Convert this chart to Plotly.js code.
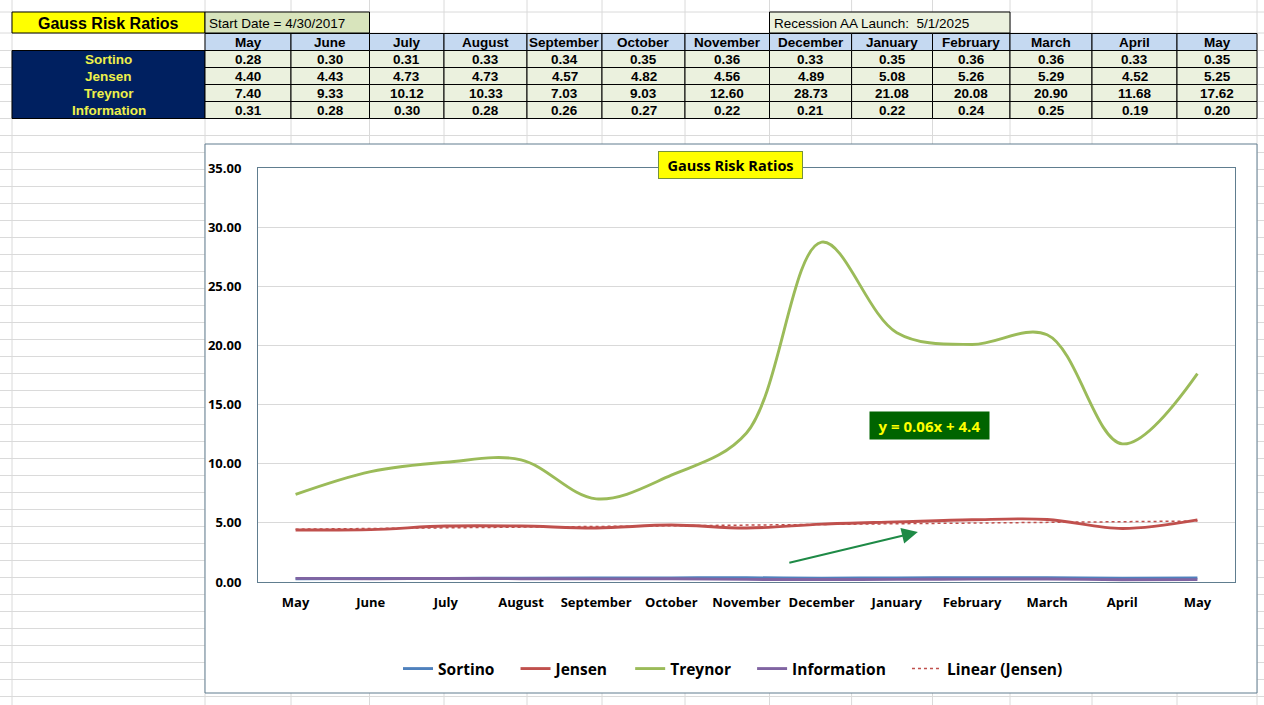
<!DOCTYPE html>
<html>
<head>
<meta charset="utf-8">
<script src="https://cdn.plot.ly/plotly-3.0.1.min.js"></script>
<style>
html,body{margin:0;padding:0;background:#fff;}
#chart{width:1264px;height:705px;}
</style>
</head>
<body>
<div id="chart"></div>
<script>
// ---------- data ----------
const months = ['May','June','July','August','September','October','November','December','January','February','March','April','May'];
const seriesNames = ['Sortino','Jensen','Treynor','Information'];
const sortino = [0.28,0.30,0.31,0.33,0.34,0.35,0.36,0.33,0.35,0.36,0.36,0.33,0.35];
const jensen = [4.40,4.43,4.73,4.73,4.57,4.82,4.56,4.89,5.08,5.26,5.29,4.52,5.25];
const treynor = [7.40,9.33,10.12,10.33,7.03,9.03,12.60,28.73,21.08,20.08,20.90,11.68,17.62];
const information = [0.31,0.28,0.30,0.28,0.26,0.27,0.22,0.21,0.22,0.24,0.25,0.19,0.20];
const sheetTitle = 'Gauss Risk Ratios';
const startDateText = 'Start Date = 4/30/2017';
const launchText = 'Recession AA Launch:  5/1/2025';
const chartTitle = 'Gauss Risk Ratios';
const trendLabel = 'y = 0.06x + 4.4';
const trendName = 'Linear (Jensen)';

// ---------- layout helpers (pixels -> paper) ----------
const W = 1264, H = 705;
const px = v => v / W;
const py = v => 1 - v / H;

const colEdges = [12,205,291,369.5,444,527,602,685,769.5,851.6,932.5,1010,1092,1177,1257];
const tableTop = 33.5, rowH = 17;

const ARIAL = '"Liberation Sans",Arial,sans-serif';
const CHARTF = '"Open Sans","Noto Sans",sans-serif';
const PAD = '\u00a0\u00a0\u00a0\u00a0';

// ---------- trend line (least squares on Jensen) ----------
const xs = months.map((m,i)=>i+1);
const n = xs.length;
const mx = xs.reduce((a,b)=>a+b,0)/n;
const my = jensen.reduce((a,b)=>a+b,0)/n;
let sxy=0,sxx=0;
for(let i=0;i<n;i++){sxy+=(xs[i]-mx)*(jensen[i]-my);sxx+=(xs[i]-mx)*(xs[i]-mx);}
const slope = sxy/sxx, intercept = my - slope*mx;
const trendY = xs.map(x=>intercept+slope*x);

// ---------- traces ----------
const traces = [
  {type:'scatter',mode:'lines',name:'Sortino'+PAD,x:xs,y:sortino,line:{shape:'spline',width:2.9,color:'#4f81bd'},hoverinfo:'skip'},
  {type:'scatter',mode:'lines',name:'Jensen'+PAD,x:xs,y:jensen,line:{shape:'spline',width:2.9,color:'#c0504d'},hoverinfo:'skip'},
  {type:'scatter',mode:'lines',name:'Treynor'+PAD,x:xs,y:treynor,line:{shape:'spline',width:2.9,color:'#9bbb59'},hoverinfo:'skip'},
  {type:'scatter',mode:'lines',name:'Information'+PAD,x:xs,y:information,line:{shape:'spline',width:2.9,color:'#8064a2'},hoverinfo:'skip'},
  {type:'scatter',mode:'lines',name:trendName,x:xs,y:trendY,line:{color:'#c0504d',width:1.5,dash:'dot'},hoverinfo:'skip'}
];

// ---------- shapes ----------
const shapes = [];
const annotations = [];
const grid = '#dadada';
// spreadsheet gridlines
colEdges.forEach(x=>shapes.push({type:'line',xref:'paper',yref:'paper',x0:px(x),x1:px(x),y0:0,y1:1,line:{color:grid,width:1},layer:'below'}));
const rowEdges = [12,33];
for(let y=50.5;y<H;y+=17) rowEdges.push(y);
rowEdges.forEach(y=>shapes.push({type:'line',xref:'paper',yref:'paper',x0:0,x1:1,y0:py(y),y1:py(y),line:{color:grid,width:1},layer:'below'}));

function cellRect(x0,x1,y0,y1,fill,lineColor,lw){
  shapes.push({type:'rect',xref:'paper',yref:'paper',x0:px(x0),x1:px(x1),y0:py(y1),y1:py(y0),fillcolor:fill,line:{color:lineColor,width:lw},layer:'below'});
}
function cellText(x,y,text,font,anchor){
  annotations.push({xref:'paper',yref:'paper',x:px(x),y:py(y),text:text,showarrow:false,xanchor:anchor||'center',yanchor:'middle',borderpad:0,font:font});
}
// top cells
cellRect(12,205,12,33,'#ffff00','#000',1);
cellRect(205,369.5,12,33,'#d8e4bc','#000',1);
cellRect(769.5,1010,12,33,'#ebf1de','#000',1);
cellText(108.5,23,sheetTitle,{family:ARIAL,size:16,color:'#000',weight:'bold'});
cellText(208,23.5,startDateText,{family:ARIAL,size:13.5,color:'#000'},'left');
cellText(773,23.5,launchText,{family:ARIAL,size:13.5,color:'#000'},'left');

const TF = {family:ARIAL,size:13.5,color:'#000',weight:'bold'};
// table: header row
months.forEach((m,i)=>{
  const x0=colEdges[i+1], x1=colEdges[i+2];
  cellRect(x0,x1,tableTop,tableTop+rowH,'#c5d9f1','#000',1);
  cellText((x0+x1)/2,tableTop+rowH/2+0.5,m,TF);
});
// row label block + values
cellRect(colEdges[0],colEdges[1],tableTop+rowH,tableTop+rowH*5,'#002060','#000',1);
const seriesValues = [sortino,jensen,treynor,information];
seriesNames.forEach((name,r)=>{
  const y0=tableTop+rowH*(r+1);
  cellText((colEdges[0]+colEdges[1])/2,y0+rowH/2+0.5,name,Object.assign({},TF,{color:'#eef04a'}));
  seriesValues[r].forEach((v,i)=>{
    const x0=colEdges[i+1], x1=colEdges[i+2];
    cellRect(x0,x1,y0,y0+rowH,'#ebf1de','#000',1);
    cellText((x0+x1)/2,y0+rowH/2+0.5,v.toFixed(2),TF);
  });
});

// chart area
shapes.push({type:'rect',xref:'paper',yref:'paper',x0:px(205),x1:px(1257),y0:py(693),y1:py(144),fillcolor:'#ffffff',line:{color:'#607d8f',width:1},layer:'below'});

// chart annotations
annotations.push(
  {xref:'paper',yref:'paper',x:px(730.5),y:py(165),text:chartTitle,showarrow:false,xanchor:'center',yanchor:'middle',width:141,height:24,bgcolor:'#ffff00',bordercolor:'#76923c',borderwidth:1,font:{family:CHARTF,size:14.5,color:'#000',weight:'bold'}},
  {xref:'x',yref:'y',x:9.43,y:13.2,text:trendLabel,showarrow:false,xanchor:'center',yanchor:'middle',width:117,height:25,bgcolor:'#006400',font:{family:CHARTF,size:15,color:'#ffff00',weight:'bold'}},
  {xref:'x',yref:'y',x:9.28,y:4.23,axref:'x',ayref:'y',ax:7.55,ay:1.6,text:'',showarrow:true,arrowhead:2,arrowsize:1.6,arrowwidth:2,arrowcolor:'#1e8a46',standoff:0}
);

const layout = {
  width:W,height:H,
  margin:{l:0,r:0,t:0,b:0},
  paper_bgcolor:'#ffffff',
  plot_bgcolor:'rgba(0,0,0,0)',
  showlegend:true,
  legend:{orientation:'h',x:px(733),y:py(669),xanchor:'center',yanchor:'middle',font:{family:CHARTF,size:15.5,color:'#000',weight:'bold'},bgcolor:'rgba(0,0,0,0)'},
  xaxis:{
    domain:[px(258),px(1235)],
    range:[0.5,13.5],
    tickvals:xs,ticktext:months,
    showgrid:false,zeroline:false,
    showline:true,mirror:true,linecolor:'#607d8f',linewidth:1,
    ticks:'outside',ticklen:8,tickcolor:'rgba(0,0,0,0)',
    tickfont:{family:CHARTF,size:13,color:'#000',weight:'bold'},
    fixedrange:true
  },
  yaxis:{
    domain:[py(582),py(168)],
    range:[0,35],dtick:5,tickformat:'.2f',
    showgrid:true,gridcolor:'#d9d9d9',zeroline:false,
    showline:true,mirror:true,linecolor:'#607d8f',linewidth:1,
    ticks:'outside',ticklen:13,tickcolor:'rgba(0,0,0,0)',
    tickfont:{family:CHARTF,size:13,color:'#000',weight:'bold'},
    fixedrange:true
  },
  shapes:shapes,
  annotations:annotations
};

Plotly.newPlot('chart',traces,layout,{displayModeBar:false,staticPlot:true});
</script>
</body>
</html>
